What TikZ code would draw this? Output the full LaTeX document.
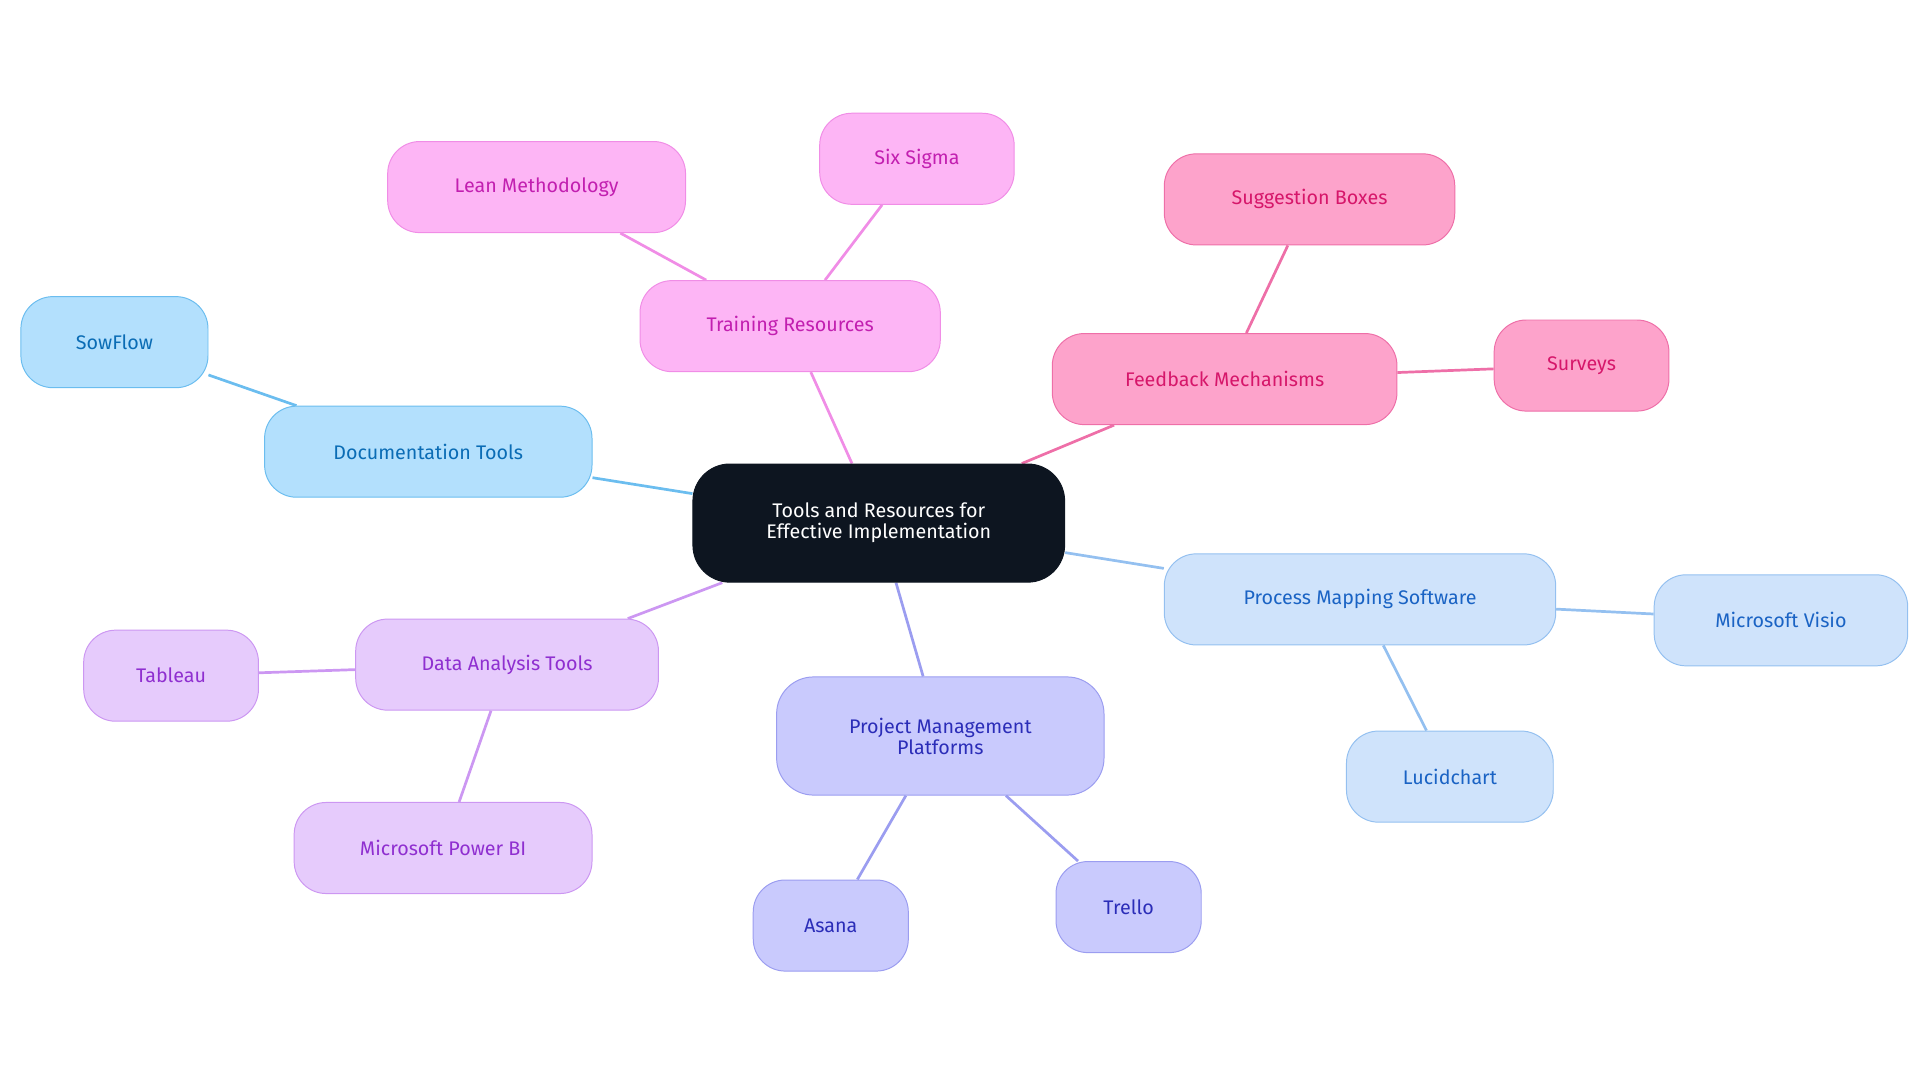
\documentclass[tikz,border=0pt]{standalone}
\usepackage{fontspec}
\setmainfont{Fira Sans}
\usetikzlibrary{backgrounds}
\definecolor{rootc}{HTML}{0D1520}
\definecolor{docF}{HTML}{B3E0FD}\definecolor{docS}{HTML}{6BBDEF}\definecolor{docT}{HTML}{0A6CB5}
\definecolor{trF}{HTML}{FDB5F5}\definecolor{trS}{HTML}{F08DE6}\definecolor{trT}{HTML}{C21FB0}
\definecolor{fbF}{HTML}{FDA3CB}\definecolor{fbS}{HTML}{EE6FA8}\definecolor{fbT}{HTML}{D6166A}
\definecolor{pmF}{HTML}{CFE3FB}\definecolor{pmS}{HTML}{94C0F0}\definecolor{pmT}{HTML}{1A63C4}
\definecolor{prF}{HTML}{C9CAFD}\definecolor{prS}{HTML}{9B9DF0}\definecolor{prT}{HTML}{2B2DB8}
\definecolor{daF}{HTML}{E6CBFC}\definecolor{daS}{HTML}{CC97F2}\definecolor{daT}{HTML}{8F2FD0}
\tikzset{
 box/.style={rounded corners=26pt,draw,line width=0.8pt,align=center,font=\fontsize{16}{17}\selectfont,inner sep=0pt,minimum height=74pt},
 doc/.style={box,fill=docF,draw=docS,text=docT},
 tr/.style={box,fill=trF,draw=trS,text=trT},
 fb/.style={box,fill=fbF,draw=fbS,text=fbT},
 pm/.style={box,fill=pmF,draw=pmS,text=pmT},
 pr/.style={box,fill=prF,draw=prS,text=prT},
 da/.style={box,fill=daF,draw=daS,text=daT},
 ln/.style={line width=2.2pt},
}
\begin{document}
\begin{tikzpicture}[x=1pt,y=-1pt]
\useasboundingbox (0,0) rectangle (1560,880);
\node[box,fill=rootc,draw=rootc,text=white,minimum width=302pt,minimum height=96pt,rounded corners=30pt] (root) at (714,425) {Tools and Resources for\\Effective Implementation};
\node[doc,minimum width=266pt] (doc) at (348,367) {Documentation Tools};
\node[doc,minimum width=152pt] (sow) at (93,278) {SowFlow};
\node[tr,minimum width=244pt] (tr) at (642,265) {Training Resources};
\node[tr,minimum width=242pt] (lean) at (436,152) {Lean Methodology};
\node[tr,minimum width=158pt] (six) at (745,129) {Six Sigma};
\node[fb,minimum width=280pt] (fb) at (995,308) {Feedback Mechanisms};
\node[fb,minimum width=236pt] (sug) at (1064,162) {Suggestion Boxes};
\node[fb,minimum width=142pt] (sur) at (1285,297) {Surveys};
\node[pm,minimum width=318pt] (pm) at (1105,487) {Process Mapping Software};
\node[pm,minimum width=206pt] (visio) at (1447,504) {Microsoft Visio};
\node[pm,minimum width=168pt] (lucid) at (1178,631) {Lucidchart};
\node[pr,minimum width=266pt,minimum height=96pt,rounded corners=30pt] (pr) at (764,598) {Project Management\\Platforms};
\node[pr,minimum width=126pt] (asana) at (675,752) {Asana};
\node[pr,minimum width=118pt] (trello) at (917,737) {Trello};
\node[da,minimum width=246pt] (da) at (412,540) {Data Analysis Tools};
\node[da,minimum width=142pt] (tab) at (139,549) {Tableau};
\node[da,minimum width=242pt] (pbi) at (360,689) {Microsoft Power BI};
\begin{scope}[on background layer]
\draw[ln,docS] (root) -- (doc); \draw[ln,docS] (doc) -- (sow);
\draw[ln,trS] (root) -- (tr); \draw[ln,trS] (tr) -- (lean); \draw[ln,trS] (tr) -- (six);
\draw[ln,fbS] (root) -- (fb); \draw[ln,fbS] (fb) -- (sug); \draw[ln,fbS] (fb) -- (sur);
\draw[ln,pmS] (root) -- (pm); \draw[ln,pmS] (pm) -- (visio); \draw[ln,pmS] (pm) -- (lucid);
\draw[ln,prS] (root) -- (pr); \draw[ln,prS] (pr) -- (asana); \draw[ln,prS] (pr) -- (trello);
\draw[ln,daS] (root) -- (da); \draw[ln,daS] (da) -- (tab); \draw[ln,daS] (da) -- (pbi);
\end{scope}
\end{tikzpicture}
\end{document}
